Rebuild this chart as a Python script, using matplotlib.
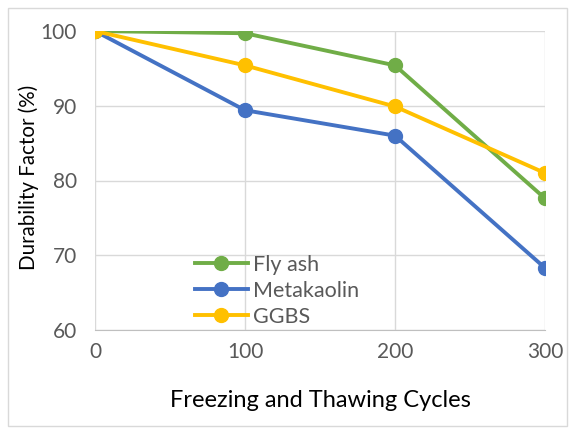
import matplotlib.pyplot as plt
from matplotlib.patches import Rectangle

plt.rcParams['font.family'] = ['Lato', 'DejaVu Sans']

cycles = [0, 100, 200, 300]
fly_ash = [100, 99.7, 95.4, 77.6]
metakaolin = [100, 89.4, 86.0, 68.3]
ggbs = [100, 95.4, 89.9, 81.0]

fig = plt.figure(figsize=(5.75, 4.34), dpi=100)
ax = fig.add_axes([95 / 575, 1 - 330 / 434, 450 / 575, 299 / 434])

# chart border
fig.patches.append(Rectangle((8 / 575, 8 / 434), 1 - 16 / 575, 1 - 16 / 434,
                             transform=fig.transFigure, fill=False,
                             edgecolor='#d9d9d9', linewidth=1))

ax.plot(cycles, fly_ash, color='#70AD47', lw=2.8, marker='o', ms=10, label='Fly ash')
ax.plot(cycles, metakaolin, color='#4472C4', lw=2.8, marker='o', ms=10, label='Metakaolin')
ax.plot(cycles, ggbs, color='#FFC000', lw=2.8, marker='o', ms=10, label='GGBS')

ax.set_xlim(0, 300)
ax.set_ylim(60, 100)
ax.set_xticks(cycles)
ax.set_yticks([60, 70, 80, 90, 100])
ax.grid(True, color='#d9d9d9', lw=1)
ax.set_axisbelow(True)
for side in ['top', 'right', 'left']:
    ax.spines[side].set_visible(False)
ax.spines['bottom'].set_color('#bfbfbf')
ax.tick_params(length=0, labelsize=15, labelcolor='#595959')
ax.tick_params(axis='x', pad=9)
ax.tick_params(axis='y', pad=13)
for lbl in ax.get_xticklabels() + ax.get_yticklabels():
    lbl.set_clip_on(False)

ax.set_xlabel('Freezing and Thawing Cycles', fontsize=17, va='top')
ax.xaxis.set_label_coords(0.5, -0.2)
ax.set_ylabel('Durability Factor (%)', fontsize=14.8)
ax.yaxis.set_label_coords(-0.125, 0.51)

ax.legend(loc='upper left', bbox_to_anchor=(0.222, 0.252), frameon=False,
          fontsize=15.5, labelcolor='#595959', handlelength=2.45,
          handletextpad=0.25, labelspacing=0.28, borderaxespad=0, borderpad=0)

fig.savefig('out.png', dpi=100)
